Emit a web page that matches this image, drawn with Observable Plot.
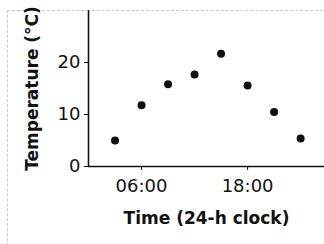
<!DOCTYPE html>
<html>
<head>
<meta charset="utf-8">
<script src="https://cdn.jsdelivr.net/npm/d3@7"></script>
<script src="https://cdn.jsdelivr.net/npm/@observablehq/plot@0.6"></script>
<style>
  html, body { margin: 0; padding: 0; background: #fff; }
  #wrap { position: relative; width: 324px; height: 244px; overflow: hidden; }
  #frame { position: absolute; left: 7px; top: 10px; width: 330px; height: 240px;
           border-left: 1px dashed #c8c8c8; border-top: 1px dashed #c8c8c8; }
  #chart { position: absolute; left: 0; top: 0; }
</style>
</head>
<body>
<div id="wrap"><div id="frame"></div><div id="chart"></div></div>
<script>
const hours = [3, 6, 9, 12, 15, 18, 21, 24];
const temps = [5, 11.8, 15.8, 17.7, 21.7, 15.6, 10.5, 5.4];
const xTicks = [6, 18];
const yTicks = [0, 10, 20];
const xLabel = "Time (24-h clock)";
const yLabel = "Temperature (°C)";

const data = hours.map((h, i) => ({hour: h, temp: temps[i]}));
const font = "DejaVu Sans";

const chart = Plot.plot({
  width: 324,
  height: 244,
  marginLeft: 88,
  marginRight: 0,
  marginTop: 10,
  marginBottom: 78,
  style: {fontFamily: font, background: "transparent", color: "#111"},
  x: {domain: [0, 26.7]},
  y: {domain: [0, 30]},
  marks: [
    Plot.axisX({ticks: xTicks, tickSize: 4, tickPadding: 9, fontSize: 18, stroke: "#111",
      tickFormat: d => String(d).padStart(2, "0") + ":00", label: null}),
    Plot.axisY({ticks: yTicks, tickSize: 4, tickPadding: 4, fontSize: 18, stroke: "#111", label: null}),
    Plot.axisX({ticks: [], label: xLabel, labelAnchor: "center", labelOffset: 57,
      fontSize: 17, fontWeight: "bold", labelArrow: "none"}),
    Plot.axisY({ticks: [], label: yLabel, labelAnchor: "center", labelOffset: 63,
      fontSize: 17, fontWeight: "bold", labelArrow: "none"}),
    Plot.ruleY([0], {stroke: "#111", strokeWidth: 1.6}),
    Plot.ruleX([0], {stroke: "#111", strokeWidth: 1.6}),
    Plot.dot(data, {x: "hour", y: "temp", r: 4, fill: "#111", stroke: "none"})
  ]
});
document.getElementById("chart").appendChild(chart);
</script>
</body>
</html>
